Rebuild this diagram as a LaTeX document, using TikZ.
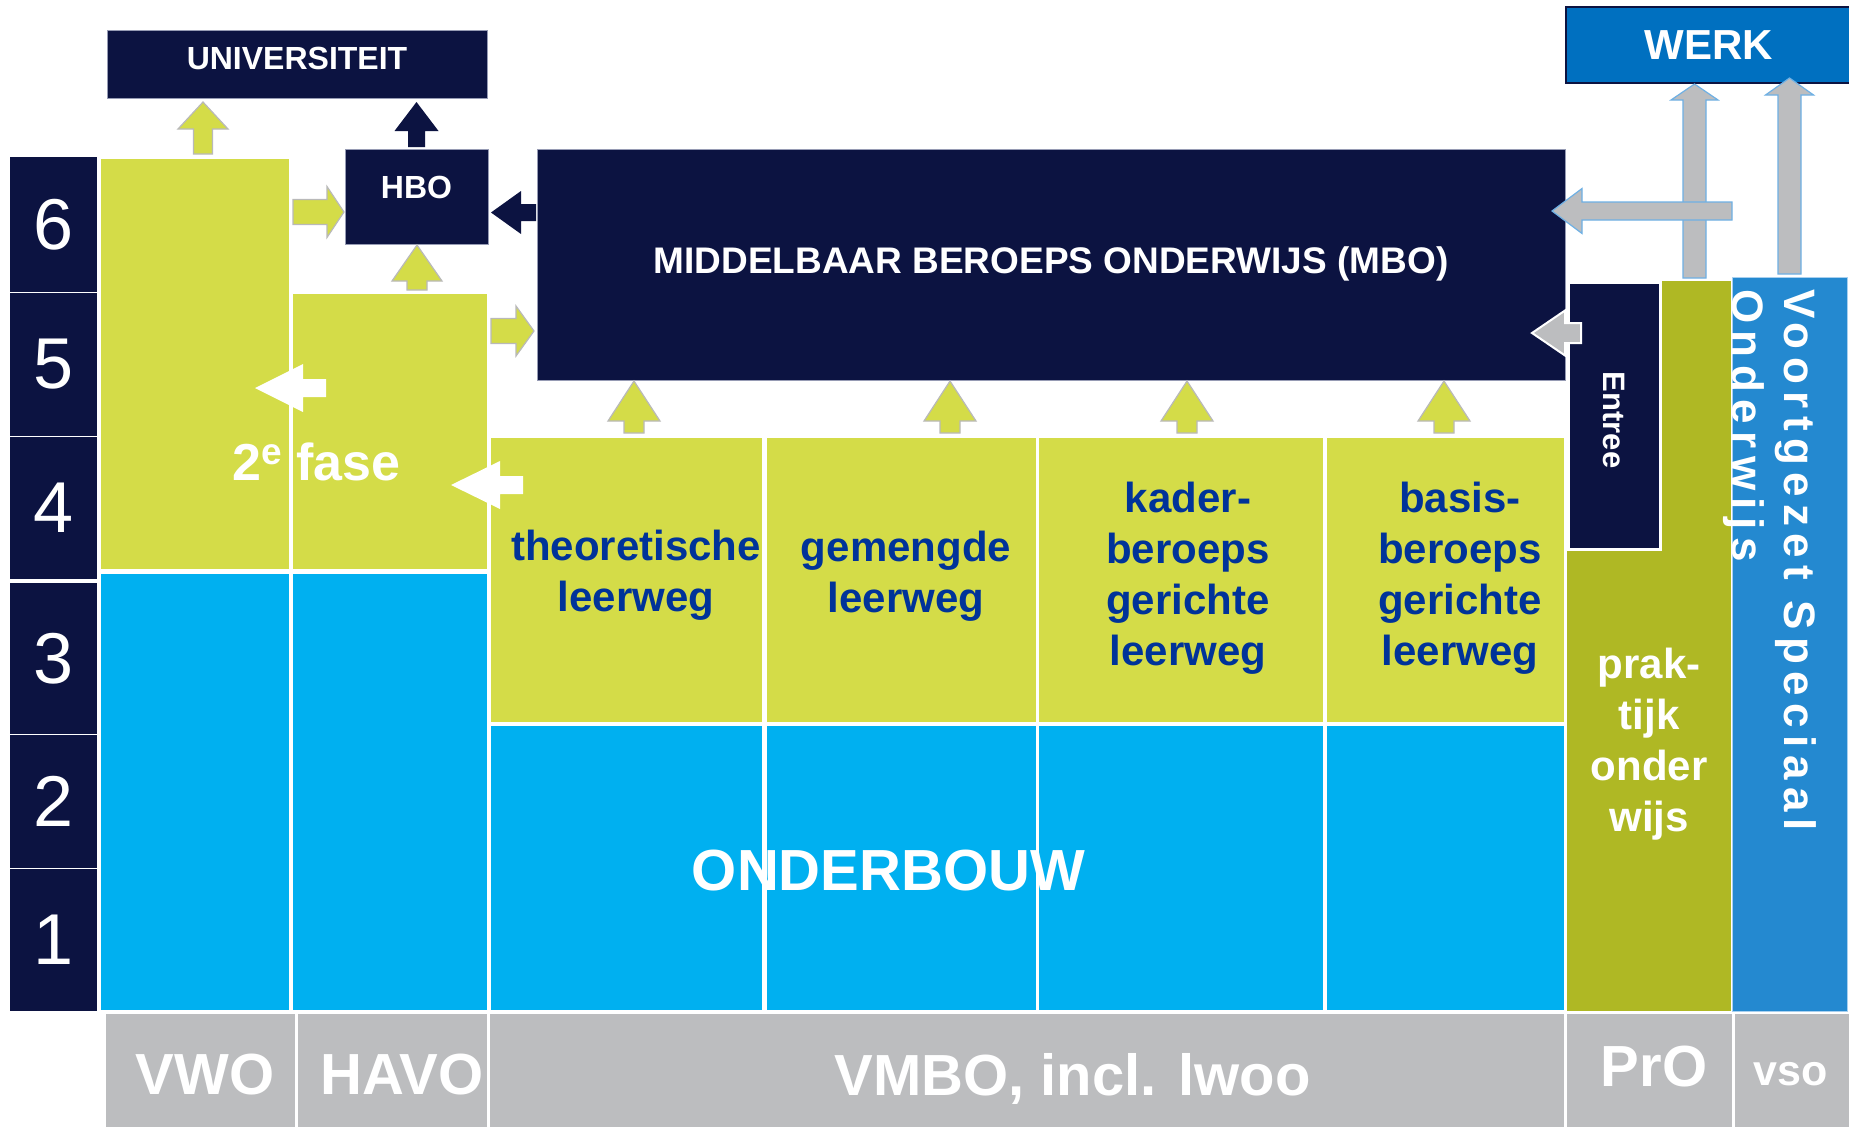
\documentclass[tikz,border=0pt]{standalone}
\usepackage{fontspec}
\setmainfont{Liberation Sans}
\newfontfamily\spacedfont[LetterSpace=17]{Liberation Sans}
\usetikzlibrary{calc}

\definecolor{navy}{RGB}{12,19,65}
\definecolor{lime}{RGB}{212,220,72}
\definecolor{sky}{RGB}{0,176,240}
\definecolor{olive}{RGB}{175,184,36}
\definecolor{vsoblue}{RGB}{36,137,208}
\definecolor{werkblue}{RGB}{0,112,192}
\definecolor{bargray}{RGB}{188,189,191}
\definecolor{txtblue}{RGB}{0,51,153}
\definecolor{arrgray}{RGB}{185,185,185}
\definecolor{lineblue}{RGB}{110,176,228}
\definecolor{boxedge}{RGB}{150,155,180}

\tikzset{
  cell/.style={inner sep=0, outer sep=0, draw=none},
  yearcell/.style={cell, fill=navy, minimum width=87, text=white, font=\fontsize{72}{72}\selectfont},
  topbox/.style={cell, fill=navy, draw=boxedge, line width=1, text=white, font=\bfseries\fontsize{32}{36}\selectfont},
  barcell/.style={cell, fill=bargray, minimum height=113},
  bartxt/.style={inner sep=0, anchor=base, text=white, font=\bfseries\fontsize{58}{60}\selectfont},
  vmbotxt/.style={inner sep=0, align=center, text=txtblue, font=\bfseries\fontsize{42}{51}\selectfont},
  fat/.style n args={3}{to path={let \p1=(\tikztostart), \p2=(\tikztotarget), \p3=($(\p2)!#3pt!(\p1)$) in
    ($(\p1)!#1pt!90:(\p2)$) -- ($(\p3)!#1pt!90:(\p2)$) -- ($(\p3)!#2pt!90:(\p2)$) -- (\p2)
    -- ($(\p3)!#2pt!-90:(\p2)$) -- ($(\p3)!#1pt!-90:(\p2)$) -- ($(\p1)!#1pt!-90:(\p2)$) -- cycle}},
  greenarr/.style={fill=lime, draw=arrgray, line width=1.2},
  navyarr/.style={fill=navy},
  whitearr/.style={fill=white},
  grayarr/.style={fill=bargray, draw=lineblue, line width=1.2},
}

\begin{document}
\begin{tikzpicture}[x=1pt, y=-1pt]
\path[use as bounding box, fill=white] (0,0) rectangle (1849,1127);

% leerjaren
\node[yearcell, minimum height=135] (y6) at (53.5,224.5) {6};
\node[yearcell, minimum height=143] (y5) at (53.5,364.5) {5};
\node[yearcell, minimum height=142] (y4) at (53.5,508) {4};
\node[yearcell, minimum height=151] (y3) at (53.5,658.5) {3};
\node[yearcell, minimum height=133] (y2) at (53.5,801.5) {2};
\node[yearcell, minimum height=142] (y1) at (53.5,940) {1};

% vwo en havo
\node[cell, fill=lime, minimum width=188, minimum height=410] (vwog) at (195,364) {};
\node[cell, fill=sky, minimum width=188, minimum height=436] (vwob) at (195,792) {};
\node[cell, fill=lime, minimum width=194, minimum height=275] (havog) at (390,431.5) {};
\node[cell, fill=sky, minimum width=194, minimum height=436] (havob) at (390,792) {};

% vmbo leerwegen
\node[cell, fill=lime, minimum width=271, minimum height=284] (theog) at (626.5,580) {};
\node[cell, fill=sky, minimum width=271, minimum height=284] (theob) at (626.5,868) {};
\node[cell, fill=lime, minimum width=269, minimum height=284] (gemg) at (901.5,580) {};
\node[cell, fill=sky, minimum width=269, minimum height=284] (gemb) at (901.5,868) {};
\node[cell, fill=lime, minimum width=284, minimum height=284] (kaderg) at (1181,580) {};
\node[cell, fill=sky, minimum width=284, minimum height=284] (kaderb) at (1181,868) {};
\node[cell, fill=lime, minimum width=237, minimum height=284] (basisg) at (1445.5,580) {};
\node[cell, fill=sky, minimum width=237, minimum height=284] (basisb) at (1445.5,868) {};

% pro, entree, vso
\node[cell, fill=olive, minimum width=164, minimum height=730] (olive) at (1649,646) {};
\node[cell, fill=navy, draw=white, line width=3, minimum width=92, minimum height=267] (entree) at (1614,415.5) {};
\node[cell, fill=vsoblue, draw=lineblue!60, line width=1, minimum width=115, minimum height=734] (vso) at (1789.5,644) {};

% onderste balk
\node[barcell, minimum width=189] (barvwo) at (200.5,1070.5) {};
\node[barcell, minimum width=189] (barhavo) at (392.5,1070.5) {};
\node[barcell, minimum width=1074] (barvmbo) at (1027,1070.5) {};
\node[barcell, minimum width=165] (barpro) at (1649.5,1070.5) {};
\node[barcell, minimum width=114] (barvso) at (1792,1070.5) {};

% vervolgopleidingen
\node[topbox, minimum width=380, minimum height=68, text depth=12] (univ) at (297,64) {UNIVERSITEIT};
\node[topbox, minimum width=143, minimum height=95, text depth=19] (hbo) at (416.5,196.5) {HBO};
\node[topbox, minimum width=1028, minimum height=231, text depth=9, font=\bfseries\fontsize{37}{40}\selectfont] (mbo) at (1051,264.5) {MIDDELBAAR BEROEPS ONDERWIJS (MBO)};
\node[topbox, fill=werkblue, draw=navy, line width=2, minimum width=286, minimum height=76, font=\bfseries\fontsize{42}{44}\selectfont] (werk) at (1709,45) {WERK};

% pijlen
\path[greenarr] ($(vwog.north)+(8,-5)$) to[fat={9.5}{25}{27}] ($(univ.south)+(-94,4)$);
\path[navyarr] ($(hbo.north)+(0,-2)$) to[fat={8.5}{22}{29}] ($(univ.south)+(119.5,4)$);
\path[greenarr] ($(vwog.north east)+(4,53)$) to[fat={12.5}{25.5}{17}] ($(hbo.west)+(-1,15.5)$);
\path[navyarr] ($(mbo.west)+(-1,-52)$) to[fat={8.5}{21.5}{30}] ($(hbo.east)+(3,16)$);
\path[greenarr] ($(havog.north)+(27,-4)$) to[fat={10}{25}{36}] ($(hbo.south)+(0.5,1)$);
\path[greenarr] ($(havog.east)+(4,-100.5)$) to[fat={12.5}{25}{18}] ($(mbo.west)+(-3,66.5)$);
\path[whitearr] ($(havog.west)+(33,-43.5)$) to[fat={9}{24}{48}] ($(vwog.east)+(-34,24)$);
\path[whitearr] ($(theog.west)+(32,-95)$) to[fat={9}{24}{49}] ($(havog.east)+(-36,53.5)$);
\path[greenarr] ($(theog.north)+(7.5,-5)$) to[fat={10}{26}{40}] ($(mbo.south)+(-417,1)$);
\path[greenarr] ($(gemg.north)+(48.5,-5)$) to[fat={10}{26}{40}] ($(mbo.south)+(-101,1)$);
\path[greenarr] ($(kaderg.north)+(6,-5)$) to[fat={10}{26}{40}] ($(mbo.south)+(136,1)$);
\path[greenarr] ($(basisg.north)+(-1.5,-5)$) to[fat={10}{26}{40}] ($(mbo.south)+(393,1)$);
\path[grayarr] ($(olive.north)+(45.5,-3)$) to[fat={11.5}{23.5}{16}] ($(werk.south)+(-14.5,1)$);
\path[grayarr] ($(vso.north)+(0,-3)$) to[fat={11.5}{24}{17}] ($(werk.south)+(80.5,-5)$);
\path[grayarr] ($(vso.north west)+(0,-66)$) to[fat={9}{22.5}{30}] ($(mbo.east)+(-13,-53.5)$);
\path[grayarr, draw=white, line width=2] ($(entree.west)+(13,-82.5)$) to[fat={10}{22.5}{33}] ($(mbo.east)+(-33,68.5)$);

% teksten
\node[inner sep=0, anchor=base west, text=white, font=\bfseries\fontsize{52}{52}\selectfont] (fase) at (232,480) {2\raisebox{16pt}{\fontsize{37}{37}\selectfont e} fase};
\node[vmbotxt] (theotxt) at (636,575) {theoretische\\leerweg};
\node[vmbotxt] (gemtxt) at (906,576) {gemengde\\leerweg};
\node[vmbotxt] (kadertxt) at (1188,578.5) {kader-\\beroeps\\gerichte\\leerweg};
\node[vmbotxt] (basistxt) at (1460,578.5) {basis-\\beroeps\\gerichte\\leerweg};
\node[vmbotxt, text=white] (protxt) at (1649,744) {prak-\\tijk\\onder\\wijs};
\node[bartxt] (onderbouw) at (888.5,890) {ONDERBOUW};
\node[rotate=-90, inner sep=0, text=white, font=\bfseries\fontsize{31}{31}\selectfont] (entreetxt) at (1613.5,420) {Entree};
\node[rotate=-90, anchor=north west, align=left, inner sep=0, text=white, font=\spacedfont\bfseries\fontsize{44}{52}\selectfont] (vsotxt) at (1817,289) {Voortgezet Speciaal\\Onderwijs};

\node[bartxt] (vwotxt) at (205,1094) {VWO};
\node[bartxt] (havotxt) at (402,1094) {HAVO};
\node[bartxt] (vmbotxt) at (1072.5,1095) {VMBO, incl. lwoo};
\node[bartxt] (protxt2) at (1654,1086) {PrO};
\node[bartxt, font=\bfseries\fontsize{43}{45}\selectfont] (vsotxt2) at (1791,1085) {vso};
\end{tikzpicture}
\end{document}
